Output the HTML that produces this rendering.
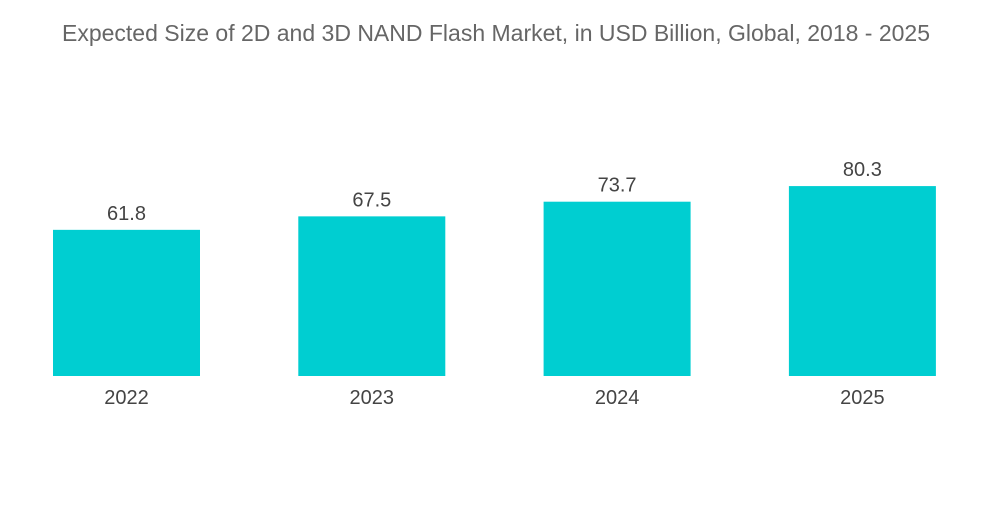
<!DOCTYPE html>
<html><head><meta charset="utf-8"><style>
body{margin:0;background:#fff;width:1000px;height:504px;overflow:hidden;font-family:"Liberation Sans",sans-serif}
</style></head><body>
<svg width="1000" height="504">
<text x="496" y="41" text-anchor="middle" font-size="23" fill="#666" font-family="Liberation Sans, sans-serif">Expected Size of 2D and 3D NAND Flash Market, in USD Billion, Global, 2018 - 2025</text>
<g id="bars"></g>
</svg>
<script>
const categories=["2022","2023","2024","2025"];
const values=[61.8,67.5,73.7,80.3];
const valueLabels=["61.8","67.5","73.7","80.3"];
const base=376, scale=2.365, x0=53, step=245.3, bw=147;
function xPos(i){return x0+i*step;}
function yPos(v){return base-v*scale;}
const g=document.getElementById('bars');
const ns='http://www.w3.org/2000/svg';
categories.forEach((c,i)=>{
  const r=document.createElementNS(ns,'rect');
  r.setAttribute('x',xPos(i));r.setAttribute('y',yPos(values[i]));
  r.setAttribute('width',bw);r.setAttribute('height',base-yPos(values[i]));
  r.setAttribute('fill','#00CED1');
  
  
  g.appendChild(r);
  const t=document.createElementNS(ns,'text');
  t.setAttribute('x',xPos(i)+bw/2);t.setAttribute('y',yPos(values[i])-10);
  t.setAttribute('text-anchor','middle');t.setAttribute('font-size','20');t.setAttribute('fill','#444');
  t.textContent=valueLabels[i];
  
  
  g.appendChild(t);
  const l=document.createElementNS(ns,'text');
  l.setAttribute('x',xPos(i)+bw/2);l.setAttribute('y',404);
  l.setAttribute('text-anchor','middle');l.setAttribute('font-size','20');l.setAttribute('fill','#444');
  l.textContent=c;
  
  
  g.appendChild(l);
});
</script>
</body></html>
